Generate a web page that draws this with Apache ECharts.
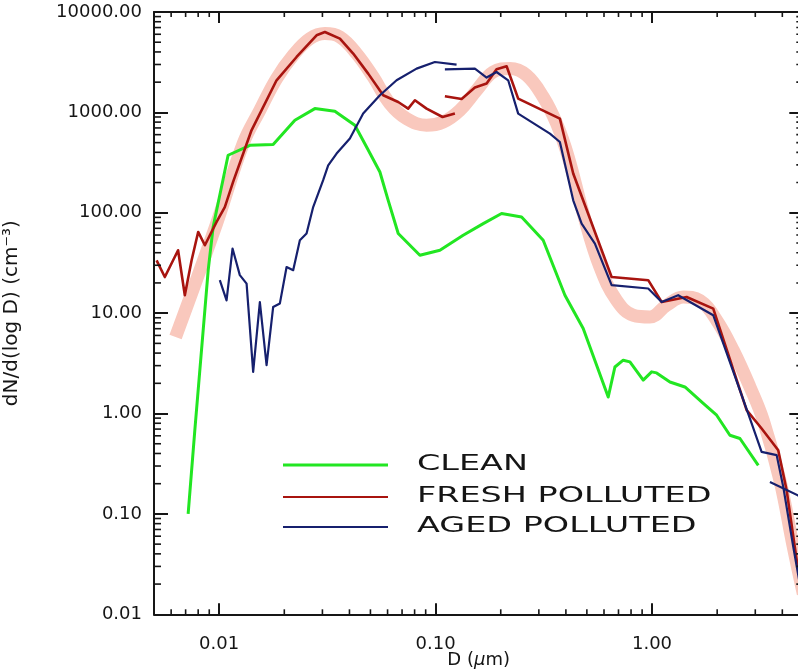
<!DOCTYPE html>
<html>
<head>
<meta charset="utf-8">
<script src="https://cdn.jsdelivr.net/npm/echarts@6/dist/echarts.min.js"></script>
<style>
html,body{margin:0;padding:0;background:#fff;}
#chart{width:798px;height:671px;}
</style>
</head>
<body>
<div id="chart"></div>
<script>
// ---- Data ----
const xRange = [0.005, 5];
const yRange = [0.01, 10000];

const xMinorTicks = [0.006,0.007,0.008,0.009,0.02,0.03,0.04,0.05,0.06,0.07,0.08,0.09,0.2,0.3,0.4,0.5,0.6,0.7,0.8,0.9,2,3,4];
const yMinorTicks = [0.02,0.03,0.04,0.05,0.06,0.07,0.08,0.09,0.2,0.3,0.4,0.5,0.6,0.7,0.8,0.9,2,3,4,5,6,7,8,9,20,30,40,50,60,70,80,90,200,300,400,500,600,700,800,900,2000,3000,4000,5000,6000,7000,8000,9000];

// fitted band (smooth)
const fitBand = [
  [0.00629,5.79],[0.00973,78.0],[0.01291,489],[0.01542,1050],[0.01842,2173],[0.02198,3707],
  [0.02625,5433],[0.0308,6095],[0.03613,5636],[0.04314,3852],[0.05149,2253],[0.06149,1224],
  [0.07345,867],[0.09087,744],[0.1084,802],[0.1295,1050],[0.1547,1660],[0.1846,2525],
  [0.2205,2730],[0.2634,2342],[0.3142,1422],[0.3624,773],[0.4102,359],[0.481,98.2],
  [0.5744,28.8],[0.6862,13.4],[0.8189,9.53],[0.978,9.16],[1.168,12.0],[1.394,14.5],
  [1.665,13.4],[1.989,8.49],[2.373,4.27],[2.835,1.84],[3.265,0.858],[3.899,0.217],
  [4.494,0.0469],[5.0,0.016]
];

const clean = [
  [0.00719,0.100],[0.00772,0.682],[0.0089,26.8],[0.00938,72.2],[0.0110,374],[0.01387,470],
  [0.01776,478],[0.02238,834],[0.02768,1091],[0.03424,1026],[0.04237,743],[0.048,452],
  [0.0553,255],[0.0604,133],[0.0672,62.1],[0.0846,37.7],[0.1047,42.4],[0.1341,59.7],
  [0.166,78.0],[0.2018,98.2],[0.2497,90.8],[0.3142,53.2],[0.3959,15.1],[0.4809,7.03],
  [0.6276,1.46],[0.6738,2.91],[0.736,3.40],[0.7904,3.27],[0.9107,2.15],[0.9958,2.60],
  [1.05,2.54],[1.21,2.06],[1.419,1.84],[1.725,1.26],[1.989,0.962],[2.29,0.608],
  [2.548,0.564],[3.097,0.305]
];

const freshSeg1 = [
  [0.00514,33.6],[0.00561,22.9],[0.00646,42.3],[0.00694,15.1],[0.00746,33.6],[0.0080,64.4],
  [0.00859,47.5],[0.00973,81.0],[0.01062,114],[0.0116,203],[0.01411,663],[0.01842,2088],
  [0.02279,3563],[0.02819,5863],[0.0308,6324],[0.03613,5433],[0.04162,3852],[0.04882,2433],
  [0.05728,1480],[0.06719,1270],[0.0747,1091],[0.08025,1321],[0.09087,1091],[0.1077,900],
  [0.1228,973]
];
const freshSeg2 = [
  [0.1104,1446],[0.1319,1360],[0.1519,1766],[0.1721,1936],[0.1913,2686],[0.2129,2878],
  [0.2408,1372],[0.3752,867],[0.4324,246],[0.6507,22.9],[0.9603,21.3],[1.108,12.9],
  [1.445,14.5],[1.918,11.1],[2.736,1.08],[3.209,0.709],[3.83,0.431],[4.188,0.172],[4.72,0.0288]
];

const agedSeg1 = [
  [0.01007,21.3],[0.01082,13.4],[0.01153,44.0],[0.01246,23.9],[0.01339,19.7],[0.01436,2.60],
  [0.01542,12.9],[0.01656,3.03],[0.01776,11.5],[0.01908,12.5],[0.02049,28.8],[0.02198,26.8],
  [0.0236,53.2],[0.02534,62.1],[0.02719,114],[0.03024,211],[0.0319,297],[0.03488,389],
  [0.04018,549],[0.04628,973],[0.05529,1480],[0.06604,2088],[0.08169,2730],[0.09926,3178],
  [0.125,2993]
];
const agedSeg2 = [
  [0.1104,2686],[0.1519,2730],[0.1721,2223],[0.1913,2525],[0.2165,2088],[0.2408,973],
  [0.3375,615],[0.3752,507],[0.4324,133],[0.4729,78.0],[0.5446,49.3],[0.6507,19.0],
  [0.9603,17.6],[1.108,12.9],[1.321,15.1],[1.918,9.53],[2.835,0.892],[3.209,0.415],
  [3.766,0.385],[4.04,0.186],[4.494,0.0469],[4.83,0.0195]
];
const agedSeg3 = [[3.506,0.208],[4.72,0.153],[5.0,0.145]];

const legendNames = ['CLEAN','FRESH POLLUTED','AGED POLLUTED'];
const colors = {clean:'#22e622', fresh:'#a8140f', aged:'#16206e', band:'#f9c8bd', axis:'#161616'};

// ---- Chart ----
const chart = echarts.init(document.getElementById('chart'), null, {renderer:'canvas'});
const FONT = 'DejaVu Sans';

function decadeLabel(v){
  const l = Math.log10(v);
  return Math.abs(l - Math.round(l)) < 1e-6 ? v.toFixed(2) : '';
}

const axisLine = {show:true, lineStyle:{color:colors.axis, width:2}};

function lineSeries(name, data, color, width, z){
  return {type:'line', name, data, showSymbol:false, symbol:'none', clip:true,
    lineStyle:{color, width, join:'round'}, itemStyle:{color}, z, silent:true, animation:false};
}

function minorRender(isX){
  return function(params, api){
    const cs = params.coordSys;
    const p = api.coord([api.value(0), api.value(1)]);
    const st = {stroke:colors.axis, lineWidth:1.6};
    if (isX){
      const yb = cs.y + cs.height, yt = cs.y;
      return {type:'group', children:[
        {type:'line', shape:{x1:p[0], y1:yb, x2:p[0], y2:yb-5}, style:st},
        {type:'line', shape:{x1:p[0], y1:yt, x2:p[0], y2:yt+5}, style:st}
      ]};
    } else {
      const xl = cs.x, xr = cs.x + cs.width;
      return {type:'group', children:[
        {type:'line', shape:{x1:xl, y1:p[1], x2:xl+7, y2:p[1]}, style:st},
        {type:'line', shape:{x1:xr, y1:p[1], x2:xr-7, y2:p[1]}, style:st}
      ]};
    }
  };
}

const legendY = [465, 497, 527];
const legendColors = [colors.clean, colors.fresh, colors.aged];
const legendWidths = [3, 2.2, 2.2];
const graphicEls = [];
legendNames.forEach((n, i) => {
  graphicEls.push({type:'line', shape:{x1:283, y1:legendY[i], x2:388, y2:legendY[i]},
    style:{stroke:legendColors[i], lineWidth:legendWidths[i]}, z:100});
  graphicEls.push({type:'text', x:417, y:legendY[i]-1, scaleX:1.52, z:100,
    style:{text:n, font:'22px "DejaVu Sans"', fill:'#151515', verticalAlign:'middle', align:'left'}});
});

const option = {
  animation:false,
  backgroundColor:'#ffffff',
  grid:{left:154, top:12, width:649.3, height:602.3, containLabel:false, outerBoundsMode:'none'},
  xAxis:[
    {type:'log', logBase:10, min:xRange[0], max:xRange[1], position:'bottom',
     name:'D ({i|\u03BC}m)', nameLocation:'middle', nameGap:37, nameMoveOverlap:false,
     nameTextStyle:{fontFamily:FONT, fontSize:18, color:'#151515',
       rich:{i:{fontFamily:FONT, fontSize:18, fontStyle:'italic', color:'#151515'}}},
     axisLine, splitLine:{show:false},
     axisTick:{show:true, inside:true, length:11, lineStyle:{color:colors.axis, width:2}},
     axisLabel:{show:true, margin:21, fontFamily:FONT, fontSize:18, color:'#151515', formatter:decadeLabel}},
    {type:'log', logBase:10, min:xRange[0], max:xRange[1], position:'top',
     axisLine, splitLine:{show:false},
     axisTick:{show:true, inside:true, length:11, lineStyle:{color:colors.axis, width:2}},
     axisLabel:{show:false}}
  ],
  yAxis:[
    {type:'log', logBase:10, min:yRange[0], max:yRange[1], position:'left',
     name:'dN/d(log D) (cm\u207B\u00B3)', nameLocation:'middle', nameGap:132, nameMoveOverlap:false,
     nameTextStyle:{fontFamily:FONT, fontSize:20, color:'#151515'},
     axisLine, splitLine:{show:false},
     axisTick:{show:true, inside:true, length:14, lineStyle:{color:colors.axis, width:2}},
     axisLabel:{show:true, margin:12, fontFamily:FONT, fontSize:18, color:'#151515', formatter:decadeLabel}},
    {type:'log', logBase:10, min:yRange[0], max:yRange[1], position:'right',
     axisLine, splitLine:{show:false},
     axisTick:{show:true, inside:true, length:14, lineStyle:{color:colors.axis, width:2}},
     axisLabel:{show:false}}
  ],
  series:[
    Object.assign(lineSeries('fit', fitBand, colors.band, 13, 1), {smooth:0.4}),
    lineSeries(legendNames[0], clean, colors.clean, 3, 3),
    lineSeries(legendNames[1], freshSeg1, colors.fresh, 2.6, 4),
    lineSeries(legendNames[1], freshSeg2, colors.fresh, 2.6, 4),
    lineSeries(legendNames[2], agedSeg1, colors.aged, 2.2, 5),
    lineSeries(legendNames[2], agedSeg2, colors.aged, 2.2, 5),
    lineSeries(legendNames[2], agedSeg3, colors.aged, 2.2, 5),
    {type:'custom', data:xMinorTicks.map(v => [v, yRange[0]]), renderItem:minorRender(true), silent:true, z:10, clip:false},
    {type:'custom', data:yMinorTicks.map(v => [xRange[0], v]), renderItem:minorRender(false), silent:true, z:10, clip:false}
  ],
  graphic:graphicEls
};
chart.setOption(option);
</script>
</body>
</html>
